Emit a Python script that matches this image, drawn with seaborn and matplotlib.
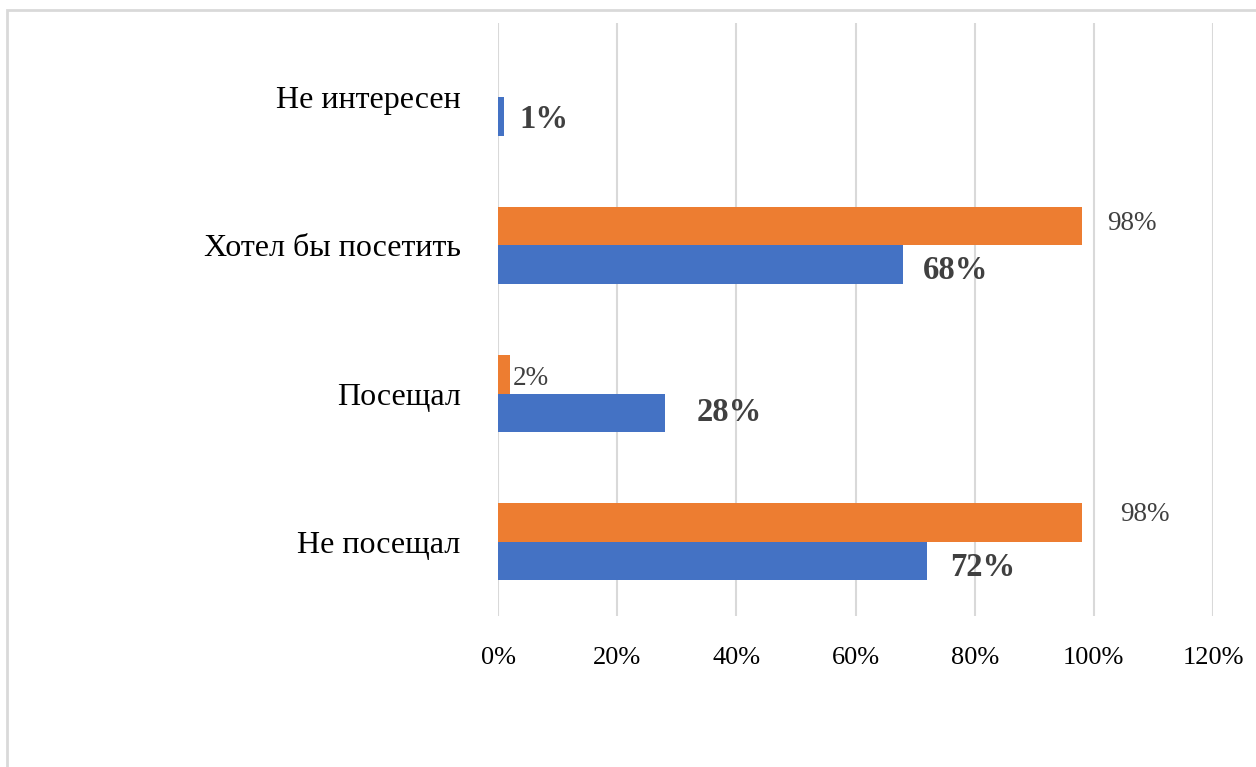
import pandas as pd
import seaborn as sns
import matplotlib.pyplot as plt
from matplotlib.patches import Rectangle
from matplotlib.ticker import PercentFormatter
import numpy as np

# Data (top to bottom as in the chart)
categories = ['Не интересен', 'Хотел бы посетить', 'Посещал', 'Не посещал']
series_orange = [np.nan, 98, 2, 98]
series_blue = [1, 68, 28, 72]
series_names = ['Ряд 2', 'Ряд 1']  # orange drawn above blue in each group

colors = ['#ED7D31', '#4472C4']
label_color = '#404040'

# label offsets in pixels (x right, y down) per category, purely cosmetic
blue_offsets = [(15, 3), (20, 6), (32, 0), (23, 6)]
orange_offsets = [(None, None), (25, -3), (3, 4), (38, -8)]

df = pd.DataFrame({
    'category': categories * 2,
    'value': series_orange + series_blue,
    'series': [series_names[0]] * 4 + [series_names[1]] * 4,
})

sns.set_style("white")
plt.rcParams['font.family'] = ['Liberation Serif', 'DejaVu Serif']

fig = plt.figure(figsize=(12.56, 7.67), dpi=100)
ax = fig.add_axes([498 / 1256, 1 - 616 / 767, 715 / 1256, 593 / 767])

sns.barplot(
    data=df.dropna(),
    y='category',
    x='value',
    hue='series',
    order=categories,
    hue_order=series_names,
    palette=colors,
    saturation=1,
    linewidth=0,
    orient='h',
    width=0.52,
    errorbar=None,
    legend=False,
    ax=ax
)

ax.set_xlim(0, 120)
ax.set_xticks(np.arange(0, 121, 20))
ax.xaxis.set_major_formatter(PercentFormatter(decimals=0))
ax.grid(axis='x', color='#d9d9d9', linewidth=1.5)
ax.set_axisbelow(True)
for s in ax.spines.values():
    s.set_visible(False)
ax.tick_params(axis='x', length=0, pad=22, labelsize=19, labelcolor='black')
ax.tick_params(axis='y', length=0, pad=27, labelsize=23, labelcolor='black')
for lbl in ax.get_yticklabels():
    lbl.set_verticalalignment('center_baseline')
ax.set_xlabel('')
ax.set_ylabel('')

# Value labels
for container, vals, offs, kw in [
    (ax.containers[0], [v for v in series_orange if not np.isnan(v)],
     [o for o in orange_offsets if o[0] is not None],
     dict(fontsize=19.5, color=label_color)),
    (ax.containers[1], series_blue, blue_offsets,
     dict(fontsize=23.5, fontweight='bold', color=label_color)),
]:
    for bar, v, (dx, dy) in zip(container, vals, offs):
        y = bar.get_y() + bar.get_height() / 2
        ax.annotate(f'{v:.0f}%', xy=(bar.get_width(), y),
                    xytext=(dx, -dy), textcoords='offset pixels',
                    ha='left', va='center', **kw)

# Light frame around the chart area
fig.patches.append(Rectangle((7 / 1256, -0.1), 1.2, 1 - 10 / 767 + 0.1,
                             transform=fig.transFigure, fill=False,
                             edgecolor='#d9d9d9', linewidth=2))

plt.savefig('out.png', dpi=100)
